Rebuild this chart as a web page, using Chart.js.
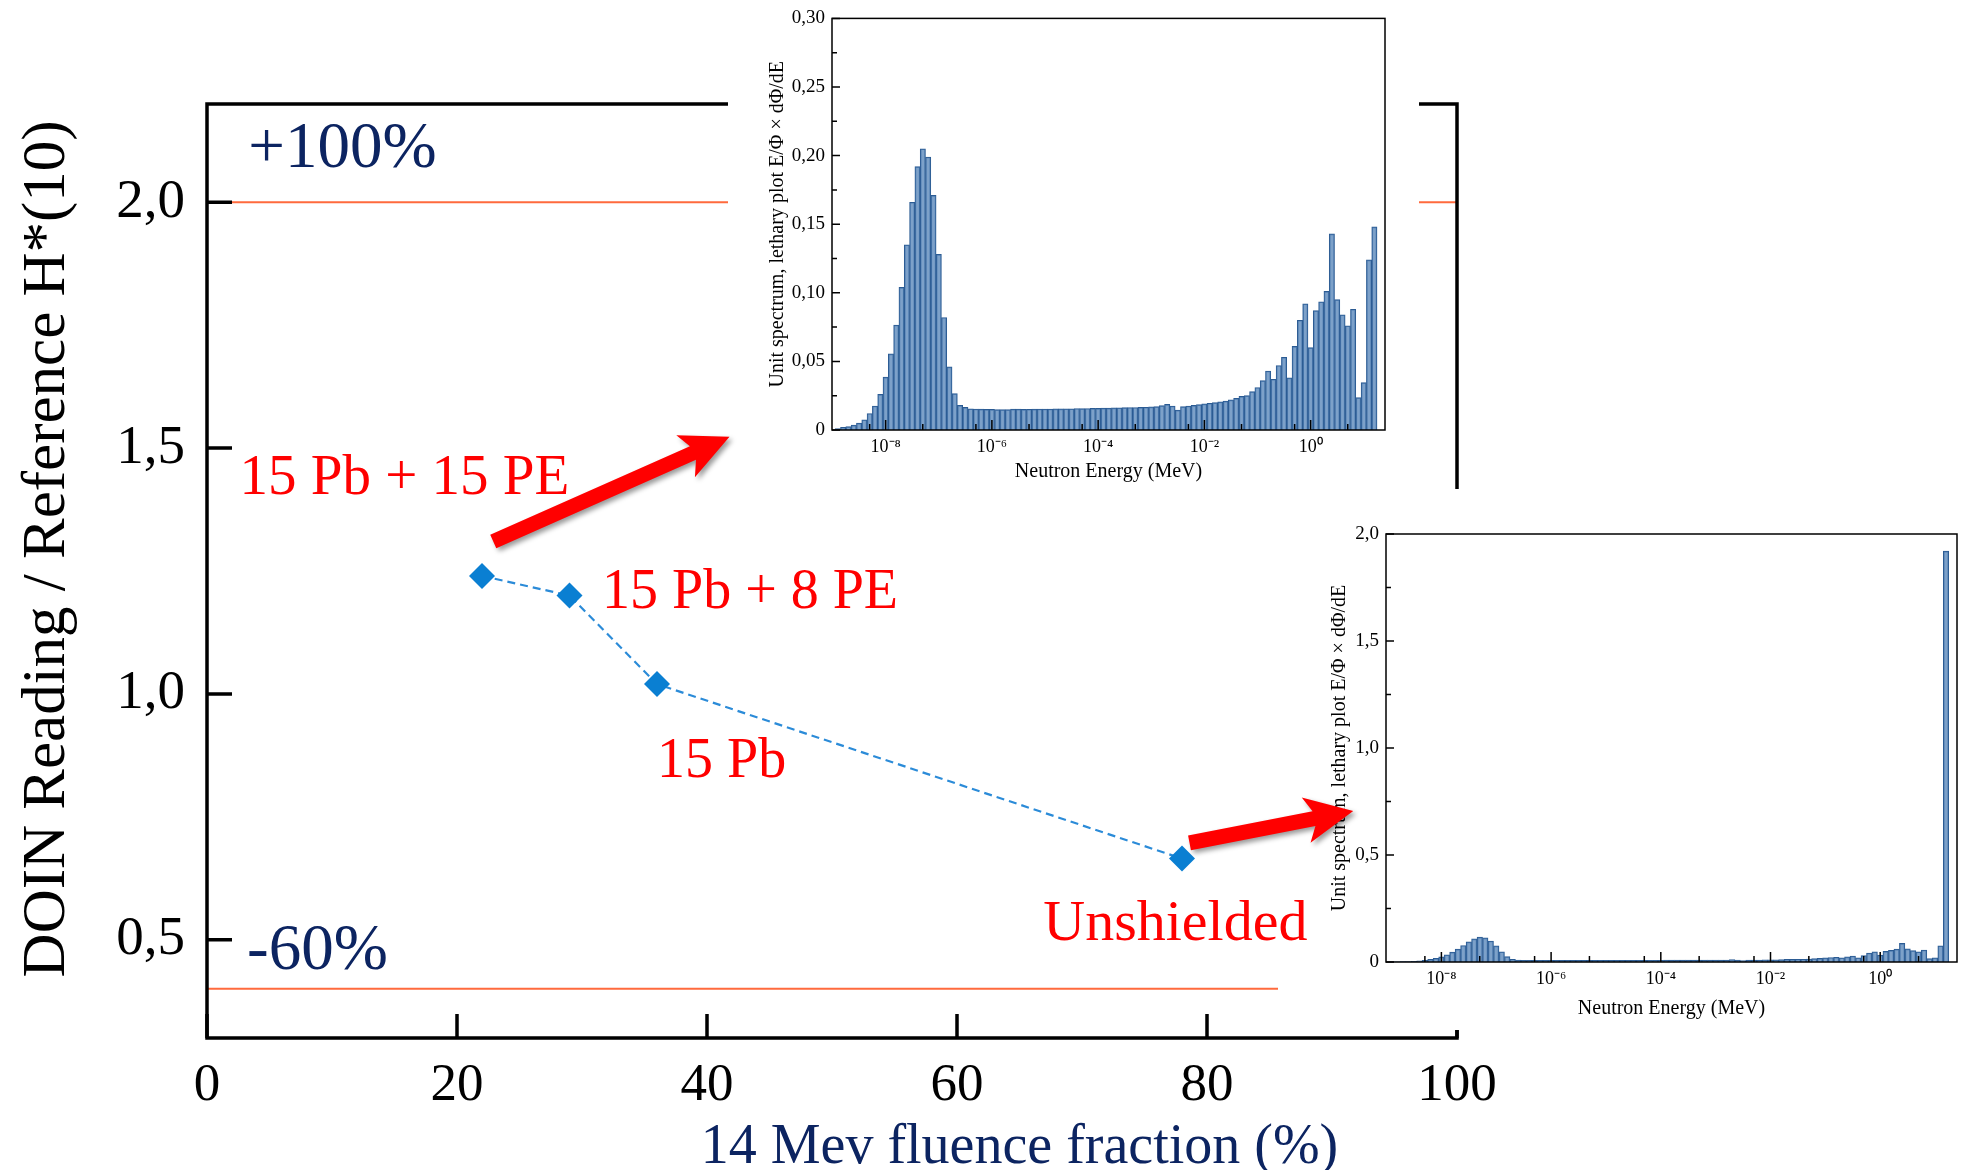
<!DOCTYPE html>
<html>
<head>
<meta charset="utf-8">
<script src="https://cdn.jsdelivr.net/npm/chart.js@4.4.1/dist/chart.umd.min.js"></script>
<style>
  html, body { margin: 0; padding: 0; background: #fff; width: 1964px; height: 1170px; overflow: hidden; }
  canvas { position: absolute; display: block; }
  #main { left: 0; top: 0; }
  #spec1 { left: 728px; top: 0; background: #fff; }
  #spec2 { left: 1278px; top: 489px; background: #fff; }
  #notes { left: 0; top: 0; pointer-events: none; }
</style>
</head>
<body>
<canvas id="main" width="1964" height="1170"></canvas>
<canvas id="spec1" width="691" height="489"></canvas>
<canvas id="spec2" width="686" height="541"></canvas>
<canvas id="notes" width="1964" height="1170"></canvas>
<script>
const $ = (id) => document.getElementById(id);

// main plot: DOIN reading vs 14 MeV fluence fraction
const fluence = [22, 29, 36, 78];
const ratio = [1.24, 1.20, 1.02, 0.665];
const shieldLabels = ["15 Pb + 15 PE", "15 Pb + 8 PE", "15 Pb", "Unshielded"];
const upperLimit = 2.0;
const lowerLimit = 0.4;
const mainXTicks = [0, 20, 40, 60, 80, 100];
const mainYTicks = [0.5, 1.0, 1.5, 2.0];

// inset spectra: 10 bins per decade, first edge at log10(E/MeV) = -8.95
const binLogStart = -8.95;
const binLogWidth = 0.1;
const energyTicks = [-8, -6, -4, -2, 0];

// 15 Pb + 15 PE spectrum
const spectrumShielded = [
  0.001, 0.002, 0.0025, 0.0035, 0.005, 0.0075, 0.012, 0.0175, 0.026, 0.0385,
  0.0555, 0.0765, 0.104, 0.135, 0.166, 0.192, 0.205, 0.199, 0.171, 0.128,
  0.082, 0.046, 0.0265, 0.018, 0.0165,
  0.0155, 0.0153, 0.0152, 0.0150, 0.0150, 0.0149, 0.0149, 0.0149, 0.0152, 0.0152,
  0.0150, 0.0151, 0.0152, 0.0153, 0.0153, 0.0153, 0.0154, 0.0154, 0.0155, 0.0155,
  0.0157, 0.0156, 0.0157, 0.0158, 0.0158, 0.0160, 0.0160, 0.0161, 0.0162, 0.0163,
  0.0164, 0.0164, 0.0165, 0.0166,
  0.0168, 0.017, 0.0178, 0.0187, 0.0175, 0.0145, 0.017, 0.0175, 0.018, 0.0185,
  0.019, 0.0195, 0.020, 0.0205, 0.021, 0.022, 0.023, 0.0245, 0.025, 0.028,
  0.031, 0.036, 0.043, 0.037, 0.047, 0.053, 0.038, 0.061, 0.080, 0.092,
  0.060, 0.087, 0.0935, 0.101, 0.143, 0.095, 0.084, 0.076, 0.088, 0.0236,
  0.0345, 0.124, 0.148
];

// unshielded spectrum
const spectrumBare = [
  0.0005, 0.001, 0.0015, 0.002, 0.003, 0.005, 0.008, 0.012, 0.017, 0.024,
  0.034, 0.046, 0.060, 0.077, 0.094, 0.108, 0.116, 0.113, 0.098, 0.075,
  0.048, 0.025, 0.013, 0.009,
  0.008, 0.008, 0.008, 0.0078, 0.0078, 0.0078, 0.0078, 0.0078, 0.0079, 0.0079,
  0.0079, 0.008, 0.008, 0.008, 0.008, 0.008, 0.008, 0.0081, 0.0081, 0.0081,
  0.0082, 0.0082, 0.0082, 0.0083, 0.0083, 0.0083, 0.0084, 0.0084, 0.0085, 0.0085,
  0.0086, 0.0086, 0.0087, 0.0087, 0.0088, 0.0088, 0.0089,
  0.009, 0.011, 0.0095, 0.007, 0.009, 0.009, 0.0095, 0.010, 0.010, 0.0105,
  0.011, 0.012, 0.012, 0.013, 0.013, 0.014, 0.016, 0.017, 0.019, 0.021,
  0.022, 0.020, 0.024, 0.028, 0.020, 0.030, 0.042, 0.048, 0.032, 0.050,
  0.054, 0.060, 0.087, 0.061, 0.053, 0.048, 0.056, 0.016, 0.019, 0.076,
  1.92
];

const SERIF = "'Liberation Serif', 'Times New Roman', serif";
const NAVY = "#0c2461";
const RED = "#ff0000";
const comma = (v, d) => (v === 0 ? "0" : v.toFixed(d).replace(".", ","));
const SUP = { "-": "\u207B", "0": "\u2070", "2": "\u00B2", "4": "\u2074", "6": "\u2076", "8": "\u2078" };
const sup = (n) => String(n).split("").map((c) => SUP[c] || c).join("");

// text + arrows laid on top of everything (they cross the insets)
const notes = [
  { text: "+100%", x: 3.3, y: 2.071, color: NAVY, size: 65 },
  { text: "-60%", x: 3.2, y: 0.441, color: NAVY, size: 65 },
  { text: shieldLabels[0], x: 2.6, y: 1.407, color: RED, size: 57 },
  { text: shieldLabels[1], x: 31.6, y: 1.174, color: RED, size: 56 },
  { text: shieldLabels[2], x: 36.0, y: 0.831, color: RED, size: 56 },
  { text: shieldLabels[3], x: 66.9, y: 0.500, color: RED, size: 58 },
];
const arrows = [
  { from: [22.9, 1.31], to: [41.8, 1.523] },
  { from: [78.6, 0.697], to: [91.7, 0.762] },
];

function drawArrow(ctx, x0, y0, x1, y1) {
  const ang = Math.atan2(y1 - y0, x1 - x0);
  const len = Math.hypot(x1 - x0, y1 - y0);
  const shaft = 15, headW = 46, headL = 44;
  ctx.save();
  ctx.translate(x0, y0);
  ctx.rotate(ang);
  ctx.beginPath();
  ctx.moveTo(0, -shaft / 2);
  ctx.lineTo(len - headL + 4, -shaft / 2);
  ctx.lineTo(len - headL - 4, -headW / 2);
  ctx.lineTo(len, 0);
  ctx.lineTo(len - headL - 4, headW / 2);
  ctx.lineTo(len - headL + 4, shaft / 2);
  ctx.lineTo(0, shaft / 2);
  ctx.closePath();
  ctx.shadowColor = "rgba(0,0,0,0.4)";
  ctx.shadowBlur = 5;
  ctx.shadowOffsetX = 3;
  ctx.shadowOffsetY = 3;
  ctx.fillStyle = RED;
  ctx.fill();
  ctx.restore();
}

const mainFrame = {
  id: "mainFrame",
  afterDraw(chart) {
    const { ctx, chartArea: a, scales: { x, y } } = chart;
    ctx.save();
    ctx.strokeStyle = "#000";
    ctx.lineWidth = 3.5;
    ctx.strokeRect(a.left, a.top, a.right - a.left, a.bottom - a.top);
    ctx.beginPath();
    mainYTicks.forEach((v) => { const p = y.getPixelForValue(v); ctx.moveTo(a.left, p); ctx.lineTo(a.left + 25, p); });
    mainXTicks.forEach((v) => { const p = x.getPixelForValue(v); ctx.moveTo(p, a.bottom); ctx.lineTo(p, a.bottom - 24); });
    ctx.stroke();

    ctx.fillStyle = "#000";
    ctx.font = `61px ${SERIF}`;
    ctx.textAlign = "center";
    ctx.textBaseline = "alphabetic";
    ctx.save();
    ctx.translate(a.left - 143, y.getPixelForValue(1.295));
    ctx.rotate(-Math.PI / 2);
    ctx.fillText("DOIN Reading / Reference H*(10)", 0, 0);
    ctx.restore();

    ctx.fillStyle = NAVY;
    ctx.font = `56px ${SERIF}`;
    ctx.textAlign = "left";
    ctx.fillText("14 Mev fluence fraction (%)", x.getPixelForValue(39.5), a.bottom + 125);
    ctx.restore();

    // overlay layer
    const o = $("notes").getContext("2d");
    o.clearRect(0, 0, 1964, 1170);
    o.textAlign = "left";
    o.textBaseline = "alphabetic";
    notes.forEach((n) => {
      o.fillStyle = n.color;
      o.font = `${n.size}px ${SERIF}`;
      o.fillText(n.text, x.getPixelForValue(n.x), y.getPixelForValue(n.y));
    });
    arrows.forEach((r) => drawArrow(o,
      x.getPixelForValue(r.from[0]), y.getPixelForValue(r.from[1]),
      x.getPixelForValue(r.to[0]), y.getPixelForValue(r.to[1])));
  },
};

new Chart($("main"), {
  type: "scatter",
  data: {
    datasets: [
      { data: [{ x: 0, y: upperLimit }, { x: 100, y: upperLimit }], showLine: true, borderColor: "#ff6a3d", borderWidth: 2, pointRadius: 0 },
      { data: [{ x: 0, y: lowerLimit }, { x: 100, y: lowerLimit }], showLine: true, borderColor: "#ff6a3d", borderWidth: 2, pointRadius: 0 },
      {
        data: fluence.map((f, i) => ({ x: f, y: ratio[i] })),
        showLine: true, borderColor: "#2b8bd8", borderWidth: 2.2, borderDash: [8, 5],
        pointStyle: "rectRot", pointRadius: 13, pointBackgroundColor: "#0a7fd2", pointBorderWidth: 0,
      },
    ],
  },
  options: {
    responsive: false,
    animation: false,
    layout: { padding: { left: 0, top: 104, right: 507, bottom: 0 } },
    plugins: { legend: { display: false }, tooltip: { enabled: false } },
    scales: {
      x: {
        type: "linear", min: 0, max: 100,
        grid: { display: false, drawTicks: false }, border: { display: false },
        afterBuildTicks: (s) => { s.ticks = mainXTicks.map((v) => ({ value: v })); },
        afterFit: (s) => { s.height = 132; },
        ticks: { font: { family: SERIF, size: 53 }, color: "#000", padding: 16, maxRotation: 0 },
      },
      y: {
        min: 0.3, max: 2.2,
        grid: { display: false, drawTicks: false }, border: { display: false },
        afterBuildTicks: (s) => { s.ticks = mainYTicks.map((v) => ({ value: v })); },
        afterFit: (s) => { s.width = 207; },
        ticks: { font: { family: SERIF, size: 55 }, color: "#000", padding: 22, callback: (v) => comma(v, 1) },
      },
    },
  },
  plugins: [mainFrame],
});

const insetFrame = {
  id: "insetFrame",
  afterDraw(chart, args, opt) {
    const { ctx, chartArea: a, scales: { x, y } } = chart;
    ctx.save();
    ctx.strokeStyle = "#000";
    ctx.lineWidth = 1.5;
    ctx.strokeRect(a.left, a.top, a.right - a.left, a.bottom - a.top);
    ctx.beginPath();
    energyTicks.forEach((v) => {
      let p = x.getPixelForValue(v);
      ctx.moveTo(p, a.bottom); ctx.lineTo(p, a.bottom - 10);
      [v - 0.301, v + 0.699].forEach((m) => {
        p = x.getPixelForValue(m);
        ctx.moveTo(p, a.bottom); ctx.lineTo(p, a.bottom - 6);
      });
    });
    const n = Math.round(y.max / opt.minor);
    for (let i = 0; i <= n; i++) {
      const p = y.getPixelForValue(i * opt.minor);
      ctx.moveTo(a.left, p);
      ctx.lineTo(a.left + (i % 2 === 0 ? 8 : 5), p);
    }
    ctx.stroke();

    ctx.fillStyle = "#000";
    ctx.font = `20px ${SERIF}`;
    ctx.textAlign = "center";
    ctx.textBaseline = "middle";
    ctx.fillText("Neutron Energy (MeV)", (a.left + a.right) / 2, opt.xTitleY);
    ctx.translate(opt.yTitleX, (a.top + a.bottom) / 2);
    ctx.rotate(-Math.PI / 2);
    ctx.fillText("Unit spectrum, lethary plot E/\u03A6 \u00D7 d\u03A6/dE", 0, 0);
    ctx.restore();
  },
};

function spectrumChart(id, values, yMax, yStep, dec, box) {
  return new Chart($(id), {
    type: "bar",
    data: {
      datasets: [{
        data: values.map((v, i) => ({ x: binLogStart + binLogWidth * (i + 0.5), y: v })),
        backgroundColor: "rgba(92,137,187,0.8)",
        borderColor: "#2b5b93",
        borderWidth: 1,
        barPercentage: 1,
        categoryPercentage: 1,
      }],
    },
    options: {
      responsive: false,
      animation: false,
      layout: { padding: { left: 0, top: box.top, right: box.right, bottom: 0 } },
      plugins: {
        legend: { display: false }, tooltip: { enabled: false },
        insetFrame: { minor: yStep / 2, xTitleY: box.xTitleY, yTitleX: box.yTitleX },
      },
      scales: {
        x: {
          type: "linear", min: -9.01, max: 1.4, offset: false,
          grid: { display: false, drawTicks: false, offset: false }, border: { display: false },
          afterBuildTicks: (s) => { s.ticks = energyTicks.map((v) => ({ value: v })); },
          afterFit: (s) => { s.height = box.bottom; },
          ticks: { font: { family: SERIF, size: 18 }, color: "#000", padding: 6, maxRotation: 0, callback: (v) => "10" + sup(v) },
        },
        y: {
          min: 0, max: yMax,
          grid: { display: false, drawTicks: false }, border: { display: false },
          afterBuildTicks: (s) => {
            const n = Math.round(yMax / yStep);
            s.ticks = Array.from({ length: n + 1 }, (_, i) => ({ value: i * yStep }));
          },
          afterFit: (s) => { s.width = box.left; },
          ticks: { font: { family: SERIF, size: 19 }, color: "#000", padding: 7, callback: (v) => comma(v, dec) },
        },
      },
    },
    plugins: [insetFrame],
  });
}

spectrumChart("spec1", spectrumShielded, 0.30, 0.05, 2, { left: 104, top: 15, right: 34, bottom: 59, xTitleY: 472, yTitleX: 50 });
spectrumChart("spec2", spectrumBare, 2.0, 0.5, 1, { left: 108, top: 45, right: 7, bottom: 68, xTitleY: 520, yTitleX: 62 });
</script>
</body>
</html>
